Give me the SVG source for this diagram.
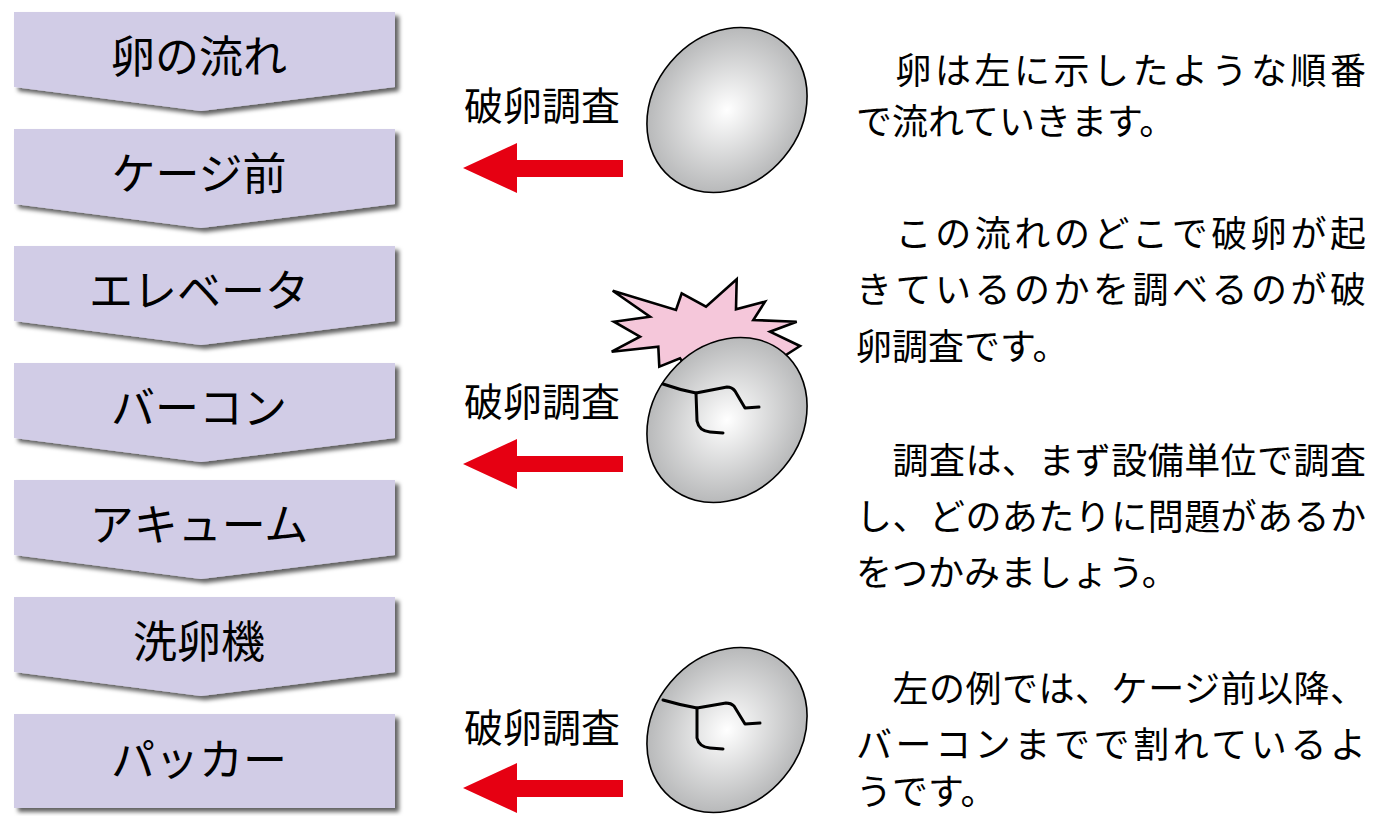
<svg xmlns="http://www.w3.org/2000/svg" width="1384" height="816" viewBox="0 0 1384 816">
  <defs>
    <filter id="boxShadow" x="-5%" y="-10%" width="115%" height="130%">
      <feDropShadow dx="4" dy="4" stdDeviation="2.2" flood-color="#000" flood-opacity="0.62"/>
    </filter>
    <radialGradient id="eggShade" cx="0.5" cy="0.5" r="0.5">
      <stop offset="0" stop-color="#ffffff"/>
      <stop offset="1" stop-color="#b8b9ba"/>
    </radialGradient>
    <!-- one egg, centred on the origin -->
    <ellipse id="eggShape" cx="0" cy="0" rx="74" ry="88" transform="rotate(40)"/>
  </defs>
  <style>
    .step { fill: #d1cce6; filter: url(#boxShadow); }
    .stepLabel { font-family: "Noto Sans CJK JP", "Noto Sans", sans-serif; font-size: 44px; fill: #000; text-anchor: middle; }
    .probe { font-family: "Noto Sans CJK JP", "Noto Sans", sans-serif; font-size: 39px; fill: #000; }
    .note { font-family: "Noto Sans CJK JP", "Noto Sans", sans-serif; font-size: 36px; fill: #000; }
    .arrow { fill: #e60012; }
    .egg { fill: url(#eggShade); stroke: #000; stroke-width: 1.6; }
    .crack { fill: none; stroke: #000; stroke-width: 3; stroke-linecap: round; stroke-linejoin: round; }
    .burst { fill: #f5c7da; stroke: #000; stroke-width: 2.6; stroke-linejoin: miter; }
  </style>

  <!-- process flow, top to bottom -->
  <g id="step-flow">
    <path class="step" d="M14,12 H395 V87 L201,111 L14,87 Z"/>
    <text class="stepLabel" x="199" y="73">卵の流れ</text>
  </g>
  <g id="step-cage">
    <path class="step" d="M14,129 H395 V204 L201,228 L14,204 Z"/>
    <text class="stepLabel" x="199" y="190">ケージ前</text>
  </g>
  <g id="step-elevator">
    <path class="step" d="M14,246 H395 V321 L201,345 L14,321 Z"/>
    <text class="stepLabel" x="199" y="307">エレベータ</text>
  </g>
  <g id="step-barcon">
    <path class="step" d="M14,363 H395 V438 L201,462 L14,438 Z"/>
    <text class="stepLabel" x="199" y="424">バーコン</text>
  </g>
  <g id="step-accum">
    <path class="step" d="M14,480 H395 V555 L201,579 L14,555 Z"/>
    <text class="stepLabel" x="199" y="541">アキューム</text>
  </g>
  <g id="step-washer">
    <path class="step" d="M14,597 H395 V672 L201,696 L14,672 Z"/>
    <text class="stepLabel" x="199" y="658">洗卵機</text>
  </g>
  <g id="step-packer">
    <path class="step" d="M14,714 H395 V808 H14 Z"/>
    <text class="stepLabel" x="199" y="776">パッカー</text>
  </g>

  <!-- inspection arrows pointing back at the flow -->
  <g id="connectors">
    <path class="arrow" d="M463,168 L517,143 V160 H623 V177 H517 V193 Z"/>
    <path class="arrow" d="M463,464 L517,439 V456 H623 V472 H517 V489 Z"/>
    <path class="arrow" d="M463,788 L517,763 V780 H623 V797 H517 V813 Z"/>
  </g>

  <g id="probe-1">
    <text class="probe" x="464" y="120">破卵調査</text>
  </g>
  <g id="probe-2">
    <text class="probe" x="464" y="416">破卵調査</text>
  </g>
  <g id="probe-3">
    <text class="probe" x="464" y="742">破卵調査</text>
  </g>

  <!-- whole egg -->
  <g id="egg-whole">
    <use href="#eggShape" class="egg" transform="translate(727,110)"/>
  </g>

  <!-- impact burst behind the cracked egg -->
  <g id="egg-impact">
    <polygon class="burst" points="612.7,290.7 676,310 681.7,293.3 706,306.7 736.7,279.3 736,309.3 765,301.7 753.3,320 796.7,321.7 770,331.7 800,346 775,362 740,392 700,386 680,358.3 659.3,366.7 658.3,346.7 611.7,351.7 640,336.7 614,321.7 650,316.7"/>
    <use href="#eggShape" class="egg" transform="translate(727,420)"/>
    <path class="crack" d="M663,384 Q680,390 696,393 L727,387 Q732,387 735,391 L745,408 L759,407"/>
    <path class="crack" d="M696,393 L697,421 Q699,431 710,432 L723,433"/>
  </g>

  <!-- cracked egg -->
  <g id="egg-cracked">
    <use href="#eggShape" class="egg" transform="translate(727,730)"/>
    <path class="crack" d="M663,700 Q680,705 697,708 L726,703 Q731,703 734,706 L745,724 L760,723"/>
    <path class="crack" d="M697,708 L697,738 Q699,747 710,748 L723,749"/>
  </g>

  <!-- explanatory notes -->
  <g id="note-1">
    <text class="note" x="856" y="84" textLength="510" lengthAdjust="spacing">　卵は左に示したような順番</text>
    <text class="note" x="856" y="135">で流れていきます。</text>
  </g>
  <g id="note-2">
    <text class="note" x="856" y="247" textLength="510" lengthAdjust="spacing">　この流れのどこで破卵が起</text>
    <text class="note" x="856" y="303" textLength="510" lengthAdjust="spacing">きているのかを調べるのが破</text>
    <text class="note" x="856" y="360">卵調査です。</text>
  </g>
  <g id="note-3">
    <text class="note" x="856" y="474" textLength="510" lengthAdjust="spacing">　調査は、まず設備単位で調査</text>
    <text class="note" x="856" y="530" textLength="510" lengthAdjust="spacing">し、どのあたりに問題があるか</text>
    <text class="note" x="856" y="586">をつかみましょう。</text>
  </g>
  <g id="note-4">
    <text class="note" x="856" y="702" textLength="510" lengthAdjust="spacing">　左の例では、ケージ前以降、</text>
    <text class="note" x="856" y="758" textLength="510" lengthAdjust="spacing">バーコンまでで割れているよ</text>
    <text class="note" x="856" y="805">うです。</text>
  </g>
</svg>
